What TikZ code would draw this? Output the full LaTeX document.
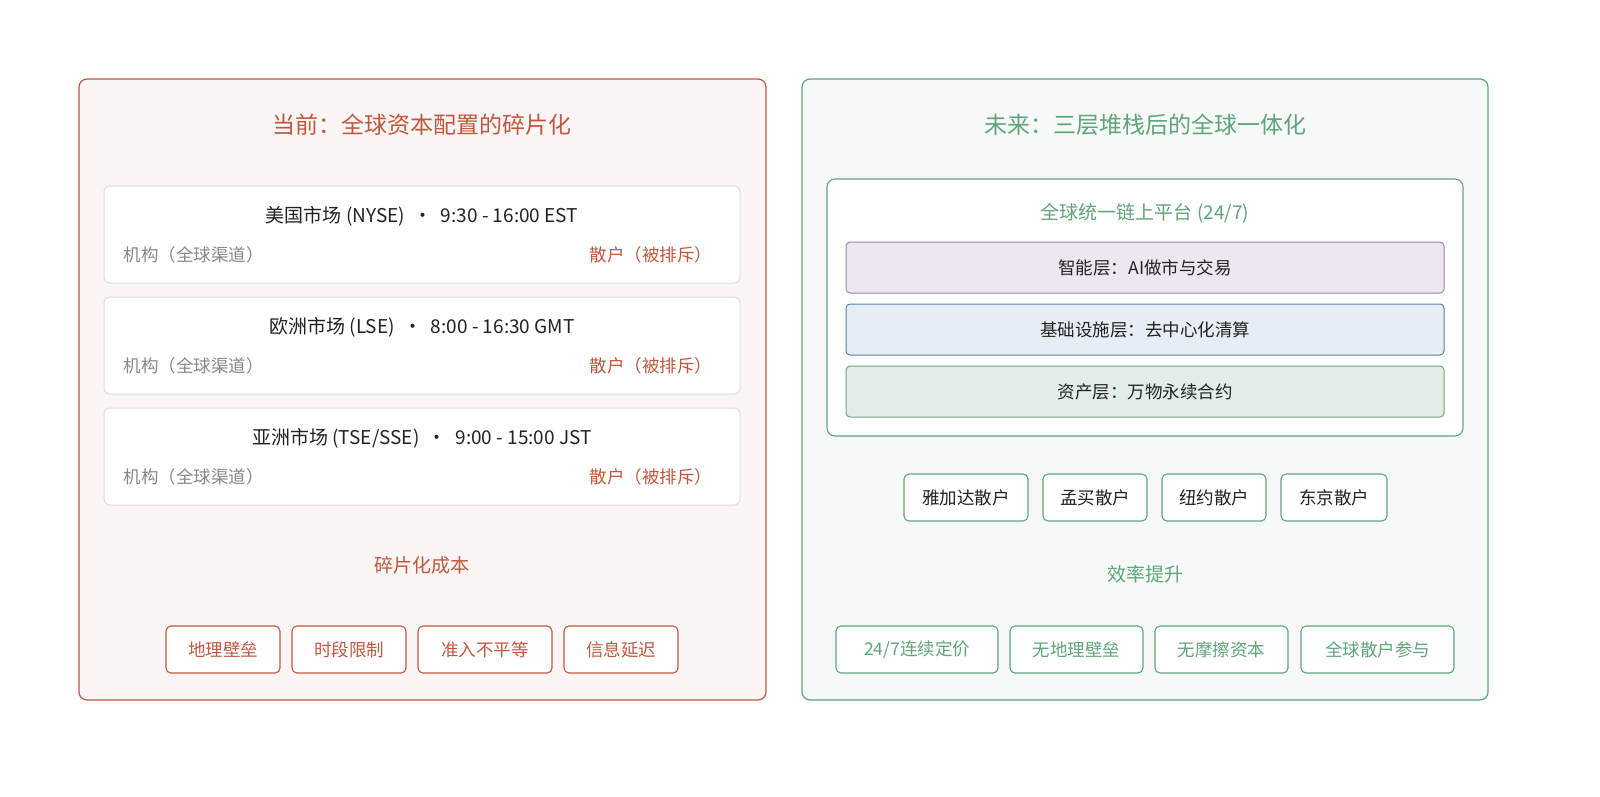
\documentclass[tikz,border=0pt]{standalone}
\usepackage{fontspec}
\setmainfont{Noto Sans CJK SC}
\definecolor{red1}{HTML}{C0583F}
\definecolor{redbg}{HTML}{FBF5F5}
\definecolor{grn}{HTML}{5FA57A}
\definecolor{grnbg}{HTML}{F6F9F7}
\definecolor{gtxt}{HTML}{888888}
\definecolor{txt}{HTML}{222222}
\definecolor{bdr}{HTML}{DDDDDD}
\definecolor{pbd}{HTML}{9A87AE}
\definecolor{pbg}{HTML}{EDE7F1}
\definecolor{bbd}{HTML}{5A7FA8}
\definecolor{bbg}{HTML}{E6EDF5}
\definecolor{gbd}{HTML}{6FA882}
\definecolor{gbg}{HTML}{E1EEE6}
\begin{document}
\begin{tikzpicture}[x=1pt,y=-1pt,
 panel/.style={draw,rounded corners=8pt,line width=1.2pt},
 card/.style={draw=bdr,fill=white,rounded corners=6pt,line width=1pt},
 tag/.style={draw,fill=white,rounded corners=5pt,line width=1.1pt},
 layer/.style={draw,rounded corners=4pt,line width=1pt},
 ttl/.style={font=\fontsize{23}{26}\selectfont},
 lbl/.style={font=\fontsize{19}{22}\selectfont},
 sm/.style={font=\fontsize{17.5}{21}\selectfont}]
\useasboundingbox (0,0) rectangle (1600,796);
\fill[white] (0,0) rectangle (1600,796);
% left panel
\draw[panel,draw=red1,fill=redbg] (79,79) rectangle (766,700);
\node[ttl,text=red1] (lt) at (422,125) {当前：全球资本配置的碎片化};
\foreach \y/\n/\t in {186/m1/{美国市场 (NYSE)\ \ ·\ \ 9:30 - 16:00 EST},297/m2/{欧洲市场 (LSE)\ \ ·\ \ 8:00 - 16:30 GMT},408/m3/{亚洲市场 (TSE/SSE)\ \ ·\ \ 9:00 - 15:00 JST}}{
 \draw[card] (104,\y) rectangle (740,\y+97);
 \node[lbl,text=txt] (\n t) at (422,\y+30) {\t};
 \node[sm,text=gtxt,anchor=west] (\n a) at (120,\y+69) {机构（全球渠道）};
 \node[sm,text=red1,anchor=east] (\n b) at (716,\y+69) {散户（被排斥）};
}
\node[lbl,text=red1] (lc) at (422,565) {碎片化成本};
\foreach \a/\b/\n/\t in {166/280/c1/地理壁垒,292/406/c2/时段限制,418/552/c3/准入不平等,564/678/c4/信息延迟}{
 \draw[tag,draw=red1] (\a,626) rectangle (\b,673);
 \node[sm,text=red1] (\n) at ({(\a+\b)/2},649.5) {\t};
}
% right panel
\draw[panel,draw=grn,fill=grnbg] (802,79) rectangle (1488,700);
\node[ttl,text=grn] (rt) at (1145,125) {未来：三层堆栈后的全球一体化};
\draw[panel,draw=grn,fill=white,line width=1.1pt] (827,179) rectangle (1463,436);
\node[lbl,text=grn] (pt) at (1145,213) {全球统一链上平台 (24/7)};
\draw[layer,draw=pbd,fill=pbg] (846,242) rectangle (1444,293);
\node[sm,text=txt] (l1) at (1145,267.5) {智能层：AI做市与交易};
\draw[layer,draw=bbd,fill=bbg] (846,304) rectangle (1444,355);
\node[sm,text=txt] (l2) at (1145,329.5) {基础设施层：去中心化清算};
\draw[layer,draw=gbd,fill=gbg] (846,366) rectangle (1444,417);
\node[sm,text=txt] (l3) at (1145,391.5) {资产层：万物永续合约};
\foreach \a/\b/\n/\t in {904/1028/r1/雅加达散户,1043/1147/r2/孟买散户,1162/1266/r3/纽约散户,1281/1387/r4/东京散户}{
 \draw[tag,draw=grn] (\a,474) rectangle (\b,521);
 \node[sm,text=txt] (\n) at ({(\a+\b)/2},497.5) {\t};
}
\node[lbl,text=grn] (rc) at (1145,574) {效率提升};
\foreach \a/\b/\n/\t in {836/998/e1/{24/7连续定价},1010/1143/e2/无地理壁垒,1155/1288/e3/无摩擦资本,1301/1454/e4/全球散户参与}{
 \draw[tag,draw=grn] (\a,626) rectangle (\b,673);
 \node[sm,text=grn] (\n) at ({(\a+\b)/2},649.5) {\t};
}
\end{tikzpicture}
\end{document}
